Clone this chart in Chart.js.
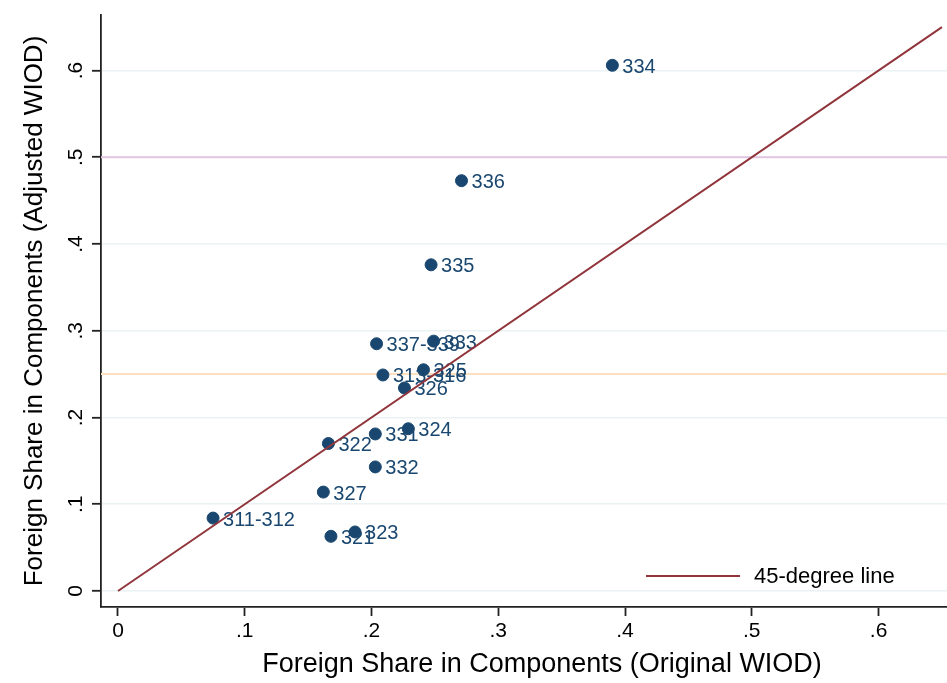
<!DOCTYPE html>
<html>
<head>
<meta charset="utf-8">
<script src="https://cdn.jsdelivr.net/npm/chart.js@4/dist/chart.umd.min.js"></script>
<style>
  html, body { margin: 0; background: #fff; overflow: hidden; }
  #wrap { width: 947px; height: 683px; overflow: hidden; }
</style>
</head>
<body>
<div id="wrap"><canvas id="myChart" width="983" height="683"></canvas></div>
<script>
// industry codes and their foreign shares
var industryLabels = ['334', '336', '335', '333', '337-339', '325', '313-316', '326',
                      '324', '331', '322', '332', '327', '311-312', '323', '321'];
var originalShare = [0.390, 0.271, 0.247, 0.249, 0.204, 0.241, 0.209, 0.226,
                     0.229, 0.203, 0.166, 0.203, 0.162, 0.075, 0.187, 0.168];
var adjustedShare = [0.606, 0.473, 0.376, 0.288, 0.285, 0.255, 0.249, 0.234,
                     0.187, 0.181, 0.170, 0.143, 0.114, 0.084, 0.068, 0.063];

var diagonalEnds = [0, 0.65];
var refLineValues = [0.5, 0.25];
var refLineColors = ['#e3c6e3', '#fde0bf'];
var xTickValues = [0, 0.1, 0.2, 0.3, 0.4, 0.5, 0.6];
var yTickValues = [0, 0.1, 0.2, 0.3, 0.4, 0.5, 0.6];

var fontFamily = '"Liberation Sans", Arial, Helvetica, sans-serif';
var navy = '#1a476f';
var maroon = '#90353b';

function stataLabel(v) {
    if (Math.abs(v) < 1e-9) return '0';
    return v.toFixed(1).replace(/^0\./, '.');
}

var scatterPoints = originalShare.map(function (x, i) {
    return { x: x, y: adjustedShare[i] };
});
var diagonalPoints = diagonalEnds.map(function (v) { return { x: v, y: v }; });

// horizontal reference lines behind everything
var refLinesPlugin = {
    id: 'refLines',
    beforeDatasetsDraw: function (chart) {
        var ctx = chart.ctx, area = chart.chartArea, ys = chart.scales.y;
        ctx.save();
        refLineValues.forEach(function (v, i) {
            var py = ys.getPixelForValue(v);
            ctx.strokeStyle = refLineColors[i];
            ctx.lineWidth = 2;
            ctx.beginPath();
            ctx.moveTo(area.left, py);
            ctx.lineTo(area.right, py);
            ctx.stroke();
        });
        ctx.restore();
    }
};

// y tick labels, vertical like Stata
var yLabelsPlugin = {
    id: 'yLabels',
    afterDraw: function (chart) {
        var ctx = chart.ctx, ys = chart.scales.y;
        ctx.save();
        ctx.fillStyle = '#000';
        ctx.font = '21px ' + fontFamily;
        ctx.textAlign = 'center';
        ctx.textBaseline = 'middle';
        ys.ticks.forEach(function (t) {
            var py = ys.getPixelForValue(t.value);
            ctx.save();
            ctx.translate(ys.right - 25, py);
            ctx.rotate(-Math.PI / 2);
            ctx.fillText(stataLabel(t.value), 0, 0);
            ctx.restore();
        });
        ctx.restore();
    }
};

// marker labels at 3 o'clock
var pointLabelsPlugin = {
    id: 'pointLabels',
    afterDatasetDraw: function (chart, args) {
        if (args.index !== 0) return;
        var ctx = chart.ctx;
        var meta = chart.getDatasetMeta(0);
        ctx.save();
        ctx.fillStyle = navy;
        ctx.font = '20px ' + fontFamily;
        ctx.textAlign = 'left';
        ctx.textBaseline = 'middle';
        meta.data.forEach(function (pt, i) {
            ctx.fillText(industryLabels[i], pt.x + 10, pt.y + 2);
        });
        ctx.restore();
    }
};

// legend inside the plot region, bottom right
var innerLegendPlugin = {
    id: 'innerLegend',
    afterDraw: function (chart) {
        var ctx = chart.ctx, area = chart.chartArea;
        var ds = chart.data.datasets[1];
        var y = area.bottom - 31;
        var x0 = area.right - 337;
        ctx.save();
        ctx.strokeStyle = ds.borderColor;
        ctx.lineWidth = 2;
        ctx.beginPath();
        ctx.moveTo(x0, y);
        ctx.lineTo(x0 + 94, y);
        ctx.stroke();
        ctx.fillStyle = '#000';
        ctx.font = '22px ' + fontFamily;
        ctx.textBaseline = 'middle';
        ctx.fillText(ds.label, x0 + 108, y + 1);
        ctx.restore();
    }
};

var ctx = document.getElementById('myChart').getContext('2d');
var myChart = new Chart(ctx, {
    type: 'scatter',
    data: {
        datasets: [
            {
                label: 'Foreign share',
                data: scatterPoints,
                backgroundColor: navy,
                borderColor: navy,
                borderWidth: 1,
                pointRadius: 6,
                pointHoverRadius: 6,
                order: 2
            },
            {
                type: 'line',
                label: '45-degree line',
                data: diagonalPoints,
                borderColor: maroon,
                borderWidth: 2,
                pointRadius: 0,
                fill: false,
                order: 1
            }
        ]
    },
    options: {
        responsive: false,
        animation: false,
        layout: { autoPadding: false, padding: { top: 15, right: 0, left: 0, bottom: 0 } },
        plugins: {
            legend: { display: false },
            tooltip: { enabled: false }
        },
        scales: {
            x: {
                type: 'linear',
                min: -0.0134,
                max: 0.6824,
                afterBuildTicks: function (scale) {
                    scale.ticks = xTickValues.map(function (v) { return { value: v }; });
                },
                afterFit: function (scale) {
                    scale.height = 76;
                    scale.paddingLeft = 0;
                    scale.paddingRight = 0;
                },
                grid: {
                    drawOnChartArea: false,
                    tickLength: 9,
                    tickColor: '#222',
                    tickWidth: 1.8
                },
                border: { display: true, color: '#222', width: 1.8 },
                ticks: {
                    color: '#000',
                    padding: 3,
                    maxRotation: 0,
                    font: { family: fontFamily, size: 21 },
                    callback: function (v) { return stataLabel(v); }
                },
                title: {
                    display: true,
                    text: 'Foreign Share in Components (Original WIOD)',
                    color: '#000',
                    font: { family: fontFamily, size: 27 },
                    padding: { top: 0, bottom: 2 }
                }
            },
            y: {
                type: 'linear',
                min: -0.0185,
                max: 0.664,
                afterBuildTicks: function (scale) {
                    scale.ticks = yTickValues.map(function (v) { return { value: v }; });
                },
                afterFit: function (scale) {
                    scale.width = 101;
                    scale.paddingTop = 0;
                    scale.paddingBottom = 0;
                },
                grid: {
                    color: '#eaf2f3',
                    lineWidth: 1.6,
                    tickLength: 9,
                    tickColor: '#222',
                    tickWidth: 1.8
                },
                border: { display: true, color: '#222', width: 1.8 },
                ticks: {
                    display: false
                },
                title: {
                    display: true,
                    text: 'Foreign Share in Components (Adjusted WIOD)',
                    color: '#000',
                    font: { family: fontFamily, size: 26 },
                    padding: { top: 19, bottom: 0 }
                }
            }
        }
    },
    plugins: [refLinesPlugin, pointLabelsPlugin, innerLegendPlugin, yLabelsPlugin]
});
</script>
</body>
</html>
